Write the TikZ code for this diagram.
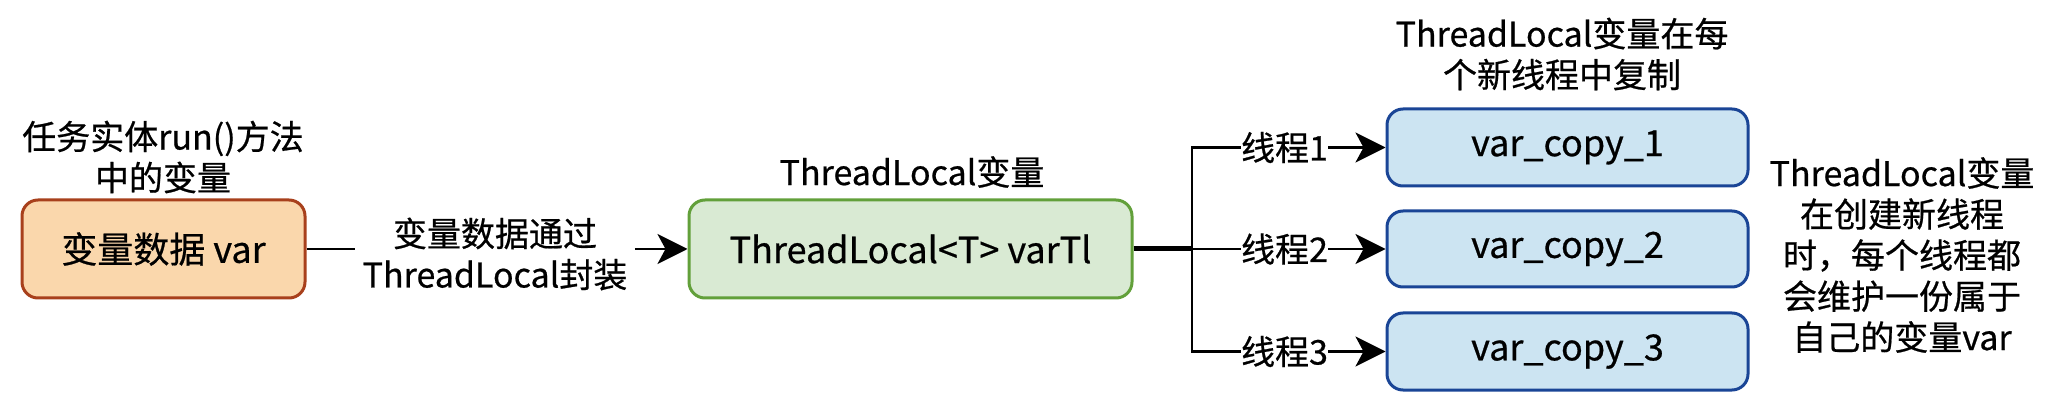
\documentclass[tikz,border=0pt]{standalone}
\usepackage{fontspec}
\setmainfont{Noto Sans CJK SC}[FakeBold=0.6]
\usetikzlibrary{arrows.meta}
\definecolor{orfill}{HTML}{FAD7AC}
\definecolor{ordraw}{HTML}{A8401C}
\definecolor{grfill}{HTML}{D9EAD3}
\definecolor{grdraw}{HTML}{62A03A}
\definecolor{blfill}{HTML}{CCE4F2}
\definecolor{bldraw}{HTML}{1A4596}
\begin{document}
\begin{tikzpicture}[x=0.5pt,y=-0.5pt,
  box/.style={draw, line width=1.5pt, rounded corners=8pt, inner sep=0pt, font=\fontsize{18}{22}\selectfont},
  lbl/.style={align=center, font=\fontsize{17}{20.5}\selectfont, inner sep=0pt},
  conn/.style={line width=1.4pt},
  arr/.style={conn, -{Stealth[length=15pt,width=15pt,inset=4pt]}}
]
\useasboundingbox (0,0) rectangle (2046,406);
% left
\node[box, fill=orfill, draw=ordraw, minimum width=141.5pt, minimum height=49pt] (b1) at (163.5,249) {变量数据 var};
\node[lbl] (t1) at (163,157) {任务实体run()方法\\中的变量};
\node[lbl, inner xsep=3.5pt] (l1) at (495,254) {变量数据通过\\ThreadLocal封装};
% middle
\node[box, fill=grfill, draw=grdraw, minimum width=221.5pt, minimum height=49pt] (g) at (910.5,249) {ThreadLocal<T> varTl};
\node[lbl] (t2) at (912,172) {ThreadLocal变量};
\draw[conn] (b1.east) -- (b1.east -| l1.west);
\draw[arr] (g.west -| l1.east) -- (g.west);
% right
\node[box, fill=blfill, draw=bldraw, minimum width=180.5pt, minimum height=38.5pt] (c1) at (1567.5,147.5) {var\_copy\_1};
\node[box, fill=blfill, draw=bldraw, minimum width=180.5pt, minimum height=38pt] (c2) at (1567.5,249) {var\_copy\_2};
\node[box, fill=blfill, draw=bldraw, minimum width=180.5pt, minimum height=38.5pt] (c3) at (1567.5,351.5) {var\_copy\_3};
\node[lbl] (t3) at (1562,54) {ThreadLocal变量在每\\个新线程中复制};
\node[lbl] (t4) at (1902,255) {ThreadLocal变量\\在创建新线程\\时，每个线程都\\会维护一份属于\\自己的变量var};
\coordinate (j) at (1192,249);
\coordinate (j1) at (1192,147.5);
\coordinate (j3) at (1192,351.5);
\node[lbl] (k1) at (1284.5,147.5) {线程1};
\node[lbl] (k2) at (1284.5,249) {线程2};
\node[lbl] (k3) at (1284.5,351.5) {线程3};
\draw[line width=2.5pt] (g.east) -- (j);
\draw[conn] (k1.west) -- (j1) -- (j3) -- (k3.west);
\draw[conn] (j) -- (k2.west);
\draw[arr] (k1.east) -- (c1.west);
\draw[arr] (k2.east) -- (c2.west);
\draw[arr] (k3.east) -- (c3.west);
\end{tikzpicture}
\end{document}
